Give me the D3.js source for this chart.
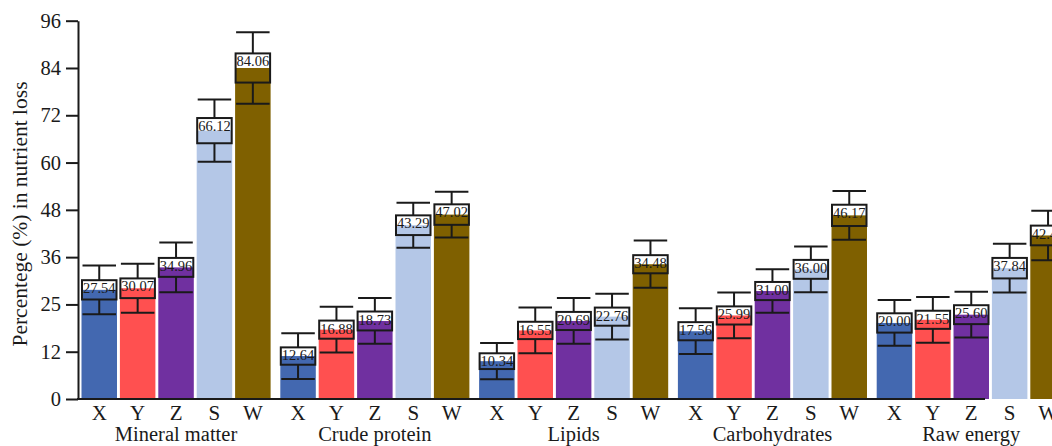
<!DOCTYPE html>
<html>
<head>
<meta charset="utf-8">
<script src="https://cdn.jsdelivr.net/npm/d3@7"></script>
<style>
  body { margin: 0; background: #fff; }
  svg { display: block; font-family: "Liberation Serif", "Times New Roman", serif; }
</style>
</head>
<body>
<div id="graph"></div>
<script>
// nutrient loss per treatment, bars with box + whiskers
const categories = ["Mineral matter", "Crude protein", "Lipids", "Carbohydrates", "Raw energy"];
const treatments = ["X", "Y", "Z", "S", "W"];
const colors = ["#4368b0", "#ff5050", "#7030a0", "#b4c7e7", "#7f6000"];

// bar heights (as plotted), one array per category in treatment order
const mineralMeans = [27.7, 28.1, 33.4, 68.1, 84.0];
const proteinMeans = [10.9, 17.6, 19.8, 44.1, 46.8];
const lipidMeans = [9.6, 17.4, 19.8, 20.9, 34.2];
const carbMeans = [17.2, 21.2, 27.4, 32.9, 46.6];
const energyMeans = [19.3, 20.1, 21.4, 33.2, 41.5];

// whisker half length
const mineralErr = [6.2, 6.2, 6.3, 7.9, 9.1];
const proteinErr = [5.8, 5.8, 5.8, 5.7, 5.8];
const lipidErr = [4.6, 5.8, 5.8, 5.8, 6.0];
const carbErr = [5.8, 5.8, 5.5, 5.8, 6.2];
const energyErr = [5.8, 5.8, 5.8, 6.2, 6.3];

// box half height
const mineralBox = [2.45, 2.5, 2.4, 3.2, 3.7];
const proteinBox = [2.2, 2.3, 2.4, 2.5, 2.6];
const lipidBox = [2.0, 2.2, 2.3, 2.3, 2.3];
const carbBox = [2.3, 2.3, 2.3, 2.4, 2.7];
const energyBox = [2.45, 2.3, 2.4, 2.6, 2.5];

// printed value labels
const mineralLabels = ["27.54", "30.07", "34.96", "66.12", "84.06"];
const proteinLabels = ["12.64", "16.88", "18.73", "43.29", "47.02"];
const lipidLabels = ["10.34", "16.55", "20.69", "22.76", "34.48"];
const carbLabels = ["17.56", "25.99", "31.00", "36.00", "46.17"];
const energyLabels = ["20.00", "21.55", "25.60", "37.84", "42.45"];

const yTickValues = [0, 12, 24, 36, 48, 60, 72, 84, 96];
const yTickLabels = ["0", "12", "25", "36", "48", "60", "72", "84", "96"];

const means = [mineralMeans, proteinMeans, lipidMeans, carbMeans, energyMeans];
const errs = [mineralErr, proteinErr, lipidErr, carbErr, energyErr];
const boxes = [mineralBox, proteinBox, lipidBox, carbBox, energyBox];
const labels = [mineralLabels, proteinLabels, lipidLabels, carbLabels, energyLabels];

const data = [];
categories.forEach((c, i) => {
    treatments.forEach((t, j) => {
        data.push({cat: c, t, mean: means[i][j], err: errs[i][j], box: boxes[i][j], label: labels[i][j], color: colors[j]});
    });
});

const W = 1052, H = 446;
const axisLeft = 78, axisRight = 985;
const plotTop = 20.7, plotBottom = 399;
const ink = "#1a1a1a";

const svg = d3.select("#graph").append("svg")
    .attr("width", W)
    .attr("height", H);

const y = d3.scaleLinear()
    .domain([0, 96])
    .range([plotBottom, plotTop]);

const x0 = d3.scaleBand()
    .domain(categories)
    .range([81.5, 81.5 + 198.8 * categories.length])
    .padding(0);

const x1 = d3.scaleBand()
    .domain(treatments)
    .range([0, 189.1])
    .paddingInner(0.0755)
    .paddingOuter(0);

const bx = d => x0(d.cat) + x1(d.t);
const bw = x1.bandwidth();

// bars
svg.append("g").selectAll("rect")
    .data(data)
    .join("rect")
        .attr("x", bx)
        .attr("width", bw)
        .attr("y", d => y(d.mean))
        .attr("height", d => y(0) - y(d.mean))
        .attr("fill", d => d.color);

// whiskers (top and bottom segments, box sits between)
const whisk = svg.append("g")
    .attr("stroke", ink)
    .attr("stroke-width", 2);

whisk.selectAll(".wt")
    .data(data)
    .join("line")
        .attr("class", "wt")
        .attr("x1", d => bx(d) + bw / 2)
        .attr("x2", d => bx(d) + bw / 2)
        .attr("y1", d => y(d.mean + d.err))
        .attr("y2", d => y(d.mean + d.box));

whisk.selectAll(".wb")
    .data(data)
    .join("line")
        .attr("class", "wb")
        .attr("x1", d => bx(d) + bw / 2)
        .attr("x2", d => bx(d) + bw / 2)
        .attr("y1", d => y(d.mean - d.box))
        .attr("y2", d => y(d.mean - d.err));

whisk.selectAll(".ct")
    .data(data)
    .join("line")
        .attr("class", "ct")
        .attr("x1", d => bx(d) + 1)
        .attr("x2", d => bx(d) + bw - 1)
        .attr("y1", d => y(d.mean + d.err))
        .attr("y2", d => y(d.mean + d.err));

whisk.selectAll(".cb")
    .data(data)
    .join("line")
        .attr("class", "cb")
        .attr("x1", d => bx(d) + 1)
        .attr("x2", d => bx(d) + bw - 1)
        .attr("y1", d => y(d.mean - d.err))
        .attr("y2", d => y(d.mean - d.err));

// boxes
svg.append("g").selectAll("rect")
    .data(data)
    .join("rect")
        .attr("x", d => bx(d) + 0.5)
        .attr("width", bw - 1)
        .attr("y", d => y(d.mean + d.box))
        .attr("height", d => y(d.mean - d.box) - y(d.mean + d.box))
        .attr("fill", "none")
        .attr("stroke", ink)
        .attr("stroke-width", 2);

// value labels
svg.append("g").selectAll("text")
    .data(data)
    .join("text")
        .attr("x", d => bx(d) + bw / 2)
        .attr("y", d => y(d.mean + d.box) + 13)
        .attr("text-anchor", "middle")
        .attr("font-size", 14.5)
        .attr("fill", ink)
        .text(d => d.label);

// y axis
const yAxis = svg.append("g")
    .attr("transform", `translate(${axisLeft}, 0)`)
    .call(d3.axisLeft(y)
        .tickValues(yTickValues)
        .tickFormat((d, i) => yTickLabels[i])
        .tickSize(12)
        .tickSizeOuter(0)
        .tickPadding(5));

yAxis.select(".domain").attr("stroke", ink).attr("stroke-width", 2);
yAxis.selectAll(".tick line").attr("stroke", ink).attr("stroke-width", 2);
yAxis.selectAll(".tick text")
    .attr("font-family", "Liberation Serif, Times New Roman, serif")
    .attr("font-size", 20.5)
    .attr("fill", ink);

// x axis line
svg.append("line")
    .attr("x1", axisLeft - 1)
    .attr("x2", axisRight)
    .attr("y1", plotBottom)
    .attr("y2", plotBottom)
    .attr("stroke", ink)
    .attr("stroke-width", 2);

// treatment letters
svg.append("g").selectAll("text")
    .data(data)
    .join("text")
        .attr("x", d => bx(d) + bw / 2)
        .attr("y", 420)
        .attr("text-anchor", "middle")
        .attr("font-size", 21)
        .attr("fill", ink)
        .text(d => d.t);

// category names
svg.append("g").selectAll("text")
    .data(categories)
    .join("text")
        .attr("x", d => x0(d) + x1.range()[1] / 2)
        .attr("y", 441)
        .attr("text-anchor", "middle")
        .attr("font-size", 20.5)
        .attr("fill", ink)
        .text(d => d);

// y title
svg.append("text")
    .attr("transform", "translate(26.5, 214) rotate(-90)")
    .attr("text-anchor", "middle")
    .attr("font-size", 21.5)
    .attr("fill", ink)
    .text("Percentege (%) in nutrient loss");
</script>
</body>
</html>
